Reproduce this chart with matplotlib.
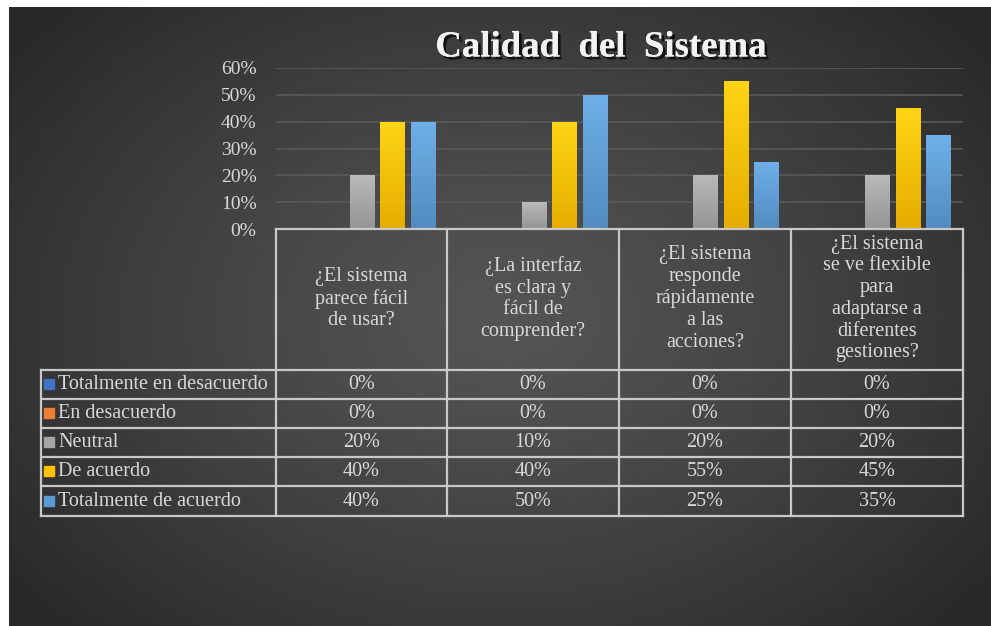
import matplotlib
matplotlib.use('Agg')
import matplotlib.pyplot as plt
import matplotlib.patheffects as pe
from matplotlib.colors import to_rgb
import numpy as np

# data
categories = ['¿El sistema\nparece fácil\nde usar?',
              '¿La interfaz\nes clara y\nfácil de\ncomprender?',
              '¿El sistema\nresponde\nrápidamente\na las\nacciones?',
              '¿El sistema\nse ve flexible\npara\nadaptarse a\ndiferentes\ngestiones?']
series_names = ['Totalmente en desacuerdo', 'En desacuerdo', 'Neutral',
                'De acuerdo', 'Totalmente de acuerdo']
totalmente_desacuerdo = [0.00, 0.00, 0.00, 0.00]
desacuerdo = [0.00, 0.00, 0.00, 0.00]
neutral = [0.20, 0.10, 0.20, 0.20]
de_acuerdo = [0.40, 0.40, 0.55, 0.45]
totalmente_acuerdo = [0.40, 0.50, 0.25, 0.35]
series_values = [totalmente_desacuerdo, desacuerdo, neutral, de_acuerdo, totalmente_acuerdo]
colors = ['#4472c4', '#ed7d31', '#a5a5a5', '#ffc000', '#5b9bd5']
yticks = [0, 0.1, 0.2, 0.3, 0.4, 0.5, 0.6]

W, H = 991, 626
FONT = 'Liberation Serif'
TXT = '#d9d9d9'
LINE = '#c8c8c8'
FS = 14.5

fig = plt.figure(figsize=(W / 100, H / 100), dpi=100)
fig.patch.set_facecolor('white')


def fx(px):
    return px / W


def fy(py):
    return 1 - py / H


# radial gradient background
bg = fig.add_axes([fx(9), 0, 1 - fx(9), 1 - 7 / H])
bg.set_axis_off()
yy, xx = np.mgrid[0:300, 0:480]
r = np.sqrt(((xx - 240) / 300.0) ** 2 + ((yy - 150) / 215.0) ** 2)
r = np.clip(r, 0, 1)
c_center = np.array([0.33, 0.33, 0.33])
c_edge = np.array([0.16, 0.16, 0.16])
img = c_center + (c_edge - c_center) * r[..., None] ** 1.3
bg.imshow(img, aspect='auto', extent=[0, 1, 0, 1])
bg.set_xlim(0, 1)
bg.set_ylim(0, 1)

# bar axes
x0, x1, ytop, ybot = 276, 963, 68, 229
ax = fig.add_axes([fx(x0), fy(ybot), fx(x1 - x0), (ybot - ytop) / H])
ax.set_facecolor('none')
ax.set_xlim(-0.5, len(categories) - 0.5)
ax.set_ylim(0, 0.6)
step = 0.178
width = 0.14
x = np.arange(len(categories))
grad = np.linspace(0, 1, 64)[:, None]
for i, (vals, col) in enumerate(zip(series_values, colors)):
    bars = ax.bar(x + (i - 2) * step, vals, width, color=col, zorder=3)
    base = np.array(to_rgb(col))
    top_c = np.clip(base + 0.08, 0, 1)
    bot_c = base * 0.9
    for b in bars:
        if b.get_height() <= 0:
            continue
        g = bot_c + (top_c - bot_c) * grad[..., None]
        bx, bw, bh = b.get_x(), b.get_width(), b.get_height()
        im = ax.imshow(g, extent=[bx, bx + bw, 0, bh], origin='lower',
                       aspect='auto', zorder=4)
        im.set_clip_path(b)
ax.set_xlim(-0.5, len(categories) - 0.5)
ax.set_ylim(0, 0.6)
ax.set_yticks(yticks)
ax.set_yticklabels(['%d%%' % round(v * 100) for v in yticks])
ax.tick_params(axis='y', length=0, pad=14, labelsize=14, labelcolor=TXT)
ax.tick_params(axis='x', length=0, labelbottom=False)
for lab in ax.get_yticklabels():
    lab.set_fontfamily(FONT)
ax.grid(axis='y', color='#595959', lw=1.2, zorder=0)
for s in ax.spines.values():
    s.set_visible(False)

# title
fig.text(fx(601), fy(47), 'Calidad  del  Sistema', ha='center', va='center',
         fontsize=26.5, fontweight='bold', family=FONT, color='#f2f2f2',
         path_effects=[pe.withSimplePatchShadow(offset=(2, -2), shadow_rgbFace='black', alpha=0.7),
                       pe.Normal()])

# data table
col_edges = [276, 447, 619, 791, 963]
row_edges = [370, 399, 428, 457, 486, 516]
lab_left = 41
head_top = 229
lw = 1.6
ov = fig.add_axes([0, 0, 1, 1])
ov.set_axis_off()
ov.set_xlim(0, W)
ov.set_ylim(H, 0)

# horizontal lines
ov.plot([col_edges[0], col_edges[-1]], [head_top, head_top], color=LINE, lw=lw)
for ry in row_edges:
    ov.plot([lab_left, col_edges[-1]], [ry, ry], color=LINE, lw=lw)
# vertical lines
ov.plot([lab_left, lab_left], [row_edges[0], row_edges[-1]], color=LINE, lw=lw)
for cx in col_edges:
    ov.plot([cx, cx], [head_top, row_edges[-1]], color=LINE, lw=lw)

# header texts
for j, cat in enumerate(categories):
    cx = (col_edges[j] + col_edges[j + 1]) / 2
    ov.text(cx, (head_top + row_edges[0]) / 2 - 1, cat, ha='center', va='center',
            fontsize=FS, family=FONT, color=TXT, linespacing=1.2)

# rows
for i, name in enumerate(series_names):
    cy = (row_edges[i] + row_edges[i + 1]) / 2
    ov.add_patch(plt.Rectangle((44, cy - 5.5), 10, 10, color=colors[i]))
    ov.text(58, cy, name, ha='left', va='center', fontsize=FS, family=FONT, color=TXT)
    for j in range(len(categories)):
        cx = (col_edges[j] + col_edges[j + 1]) / 2
        ov.text(cx, cy, '%d%%' % round(series_values[i][j] * 100), ha='center', va='center',
                fontsize=FS, family=FONT, color=TXT)

fig.savefig('out.png', dpi=100, facecolor=fig.get_facecolor())
